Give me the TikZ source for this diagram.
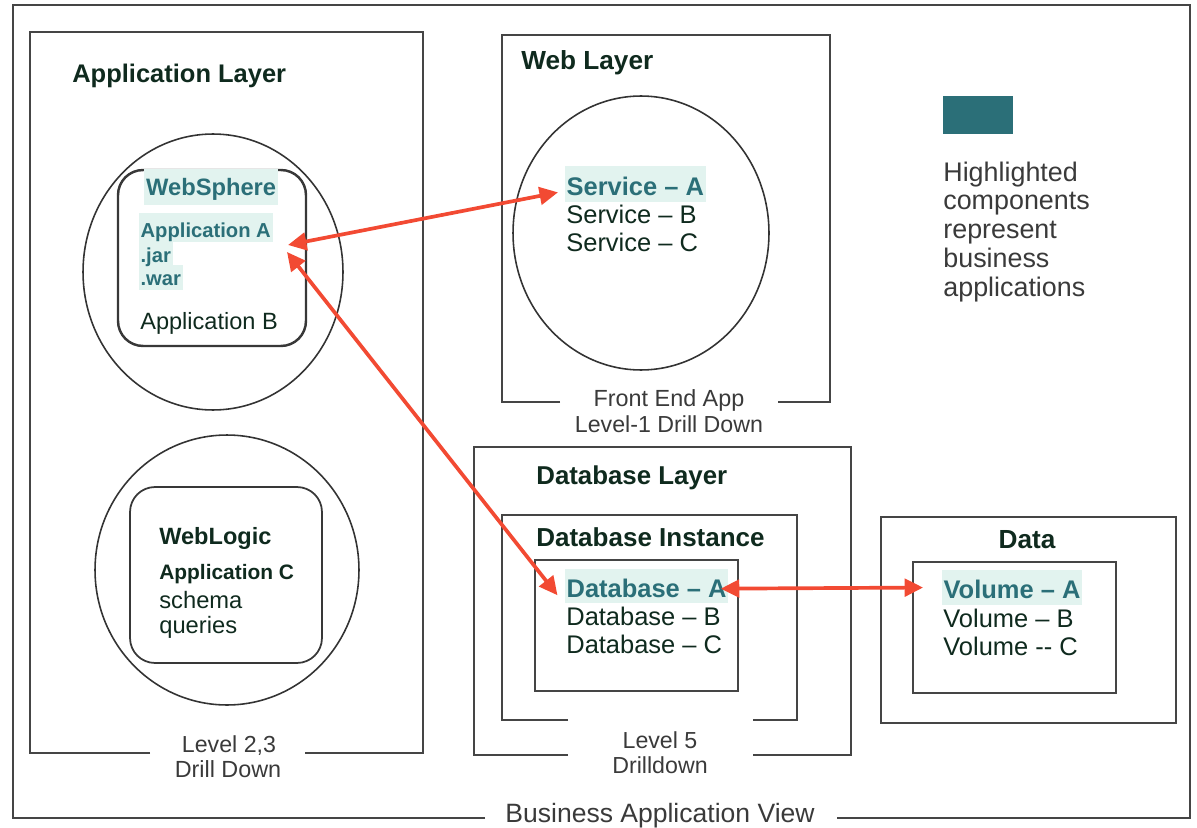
\documentclass[tikz,border=0pt]{standalone}
\usepackage{fontspec}
\setmainfont{Liberation Sans}
\usetikzlibrary{shapes.geometric,arrows.meta}
\definecolor{teal1}{HTML}{2B6F78}
\definecolor{hlbg}{HTML}{E2F3EF}
\definecolor{ink}{HTML}{0F2A1E}
\definecolor{gtext}{HTML}{3A3A3A}
\definecolor{frame}{HTML}{454545}
\definecolor{arr}{HTML}{F24A33}
\begin{document}
\begin{tikzpicture}[x=0.02cm,y=-0.02cm,
  frameline/.style={draw=frame,line width=1.1pt},
  ellline/.style={draw=black!80,line width=0.9pt,ellipse,inner sep=0pt},
  rbox/.style={draw=black!78,line width=1.4pt,rounded corners=0.5cm,rectangle,inner sep=0pt},
  reg/.style={font=\fontsize{#1}{#1}\selectfont},
  bld/.style={font=\bfseries\fontsize{#1}{#1}\selectfont},
  txt/.style={inner sep=0pt,anchor=base west,text=ink},
  hl/.style={fill=hlbg,text=teal1,inner xsep=1pt,inner ysep=0pt,anchor=base west},
  lab/.style={inner sep=0pt,anchor=base,text=gtext},
  biarrow/.style={draw=arr,line width=2.1pt,{Triangle[length=10.5pt,width=10pt]}-{Triangle[length=10.5pt,width=10pt]}}
]
\useasboundingbox (0,0) rectangle (1197,828);

% frames
\draw[frameline] (485,818) -| (13,5) -| (1190,818) -- (837,818);
\draw[frameline] (150,753) -| (30,32) -| (423,753) -- (305,753);
\draw[frameline] (560,402) -| (502,35) -| (830,402) -- (778,402);
\draw[frameline] (568,755) -| (474,447) -| (851,755) -- (753,755);
\draw[frameline] (568,720) -| (502,515) -| (797,720) -- (753,720);
\draw[frameline] (535,560) rectangle (738,691);
\draw[frameline] (881,517) rectangle (1176,723);
\draw[frameline] (913,562) rectangle (1116,693);

% ellipses
\node[ellline,minimum width=5.2cm,minimum height=5.52cm] (ellWS) at (213,272) {};
\node[ellline,minimum width=5.28cm,minimum height=5.4cm] (ellWL) at (227,570) {};
\node[ellline,minimum width=5.12cm,minimum height=5.48cm] (ellSvc) at (641,233) {};

% rounded boxes
\node[rbox,minimum width=3.76cm,minimum height=3.52cm] (wsbox) at (212,258) {};
\node[rbox,line width=1pt,minimum width=3.84cm,minimum height=3.52cm] (wlbox) at (226,575) {};

% headings
\node[txt,bld=14.5] (applayer) at (72,83) {Application Layer};
\node[txt,bld=14.9] (weblayer) at (521,70) {Web Layer};
\node[txt,bld=14.7] (dblayer) at (536,484) {Database Layer};
\node[txt,bld=14.8] (dbinst) at (536,546) {Database Instance};
\node[txt,bld=14.9,anchor=base] (data) at (1027,548) {Data};

% WebSphere
\node[hl,bld=13.5,text height=14.7pt,text depth=5.5pt] (websphere) at (144,195) {WebSphere};
\node[hl,bld=11.5,text height=11.3pt,text depth=3pt] (war) at (138.5,285) {.war};
\node[hl,bld=11.5,text height=11.3pt,text depth=2pt] (jar) at (138.5,262) {.jar};
\node[hl,bld=11.5,text height=13.6pt,text depth=2.8pt] (appA) at (138.5,237) {Application A};
\node[txt,reg=13.4] (appB) at (140,329) {Application B};

% WebLogic
\node[txt,bld=13.4] (weblogic) at (159,544) {WebLogic};
\node[txt,bld=11.9] (appC) at (159,579) {Application C};
\node[txt,reg=13.5] (schema) at (159,608) {schema};
\node[txt,reg=13.5] (queries) at (159,633) {queries};

% Services
\node[hl,bld=14.5,text height=16.4pt,text depth=4pt] (svcA) at (564.5,195) {Service – A};
\node[txt,reg=14.5] (svcB) at (566,223) {Service – B};
\node[txt,reg=14.5] (svcC) at (566,251) {Service – C};

% Databases
\node[hl,bld=14.5,text height=15.9pt,text depth=3.4pt] (dbA) at (564.5,597) {Database – A};
\node[txt,reg=14.5] (dbB) at (566,625) {Database – B};
\node[txt,reg=14.5] (dbC) at (566,653) {Database – C};

% Volumes
\node[hl,bld=14.5,text height=15.9pt,text depth=4pt] (volA) at (941.5,598) {Volume – A};
\node[txt,reg=14.5] (volB) at (943,627) {Volume – B};
\node[txt,reg=14.5] (volC) at (943,655) {Volume -{}- C};

% legend
\node[fill=teal1,inner sep=0pt,minimum width=1.4cm,minimum height=0.76cm] (legsw) at (978,115) {};
\node[lab,reg=15.3,anchor=base west] (leg1) at (943,181) {Highlighted};
\node[lab,reg=15.3,anchor=base west] (leg2) at (943,209.5) {components};
\node[lab,reg=15.3,anchor=base west] (leg3) at (943,238) {represent};
\node[lab,reg=15.3,anchor=base west] (leg4) at (943,267) {business};
\node[lab,reg=15.3,anchor=base west] (leg5) at (943,296) {applications};

% labels
\node[lab,reg=13.3] (fe1) at (669,406) {Front End App};
\node[lab,reg=13.2] (fe2) at (669,432) {Level-1 Drill Down};
\node[lab,reg=13.2] (l5a) at (660,748) {Level 5};
\node[lab,reg=13.2] (l5b) at (660,773) {Drilldown};
\node[lab,reg=13.2] (l23a) at (229,752) {Level 2,3};
\node[lab,reg=13.3] (l23b) at (228,777) {Drill Down};
\node[lab,reg=15.1] (bav) at (660,822) {Business Application View};

% arrows
\coordinate (wsTipA) at (288,245);
\coordinate (wsTipB) at (287,252);
\draw[biarrow] (wsTipA) -- ([xshift=-3.7pt,yshift=1.5pt]svcA.base west);
\draw[biarrow] (wsTipB) -- ([xshift=-4pt,yshift=1pt]dbA.base west);
\draw[biarrow] ([xshift=-4.5pt,yshift=-1.5pt]dbA.east) -- ([xshift=-10.5pt]volA.west);
\end{tikzpicture}
\end{document}
